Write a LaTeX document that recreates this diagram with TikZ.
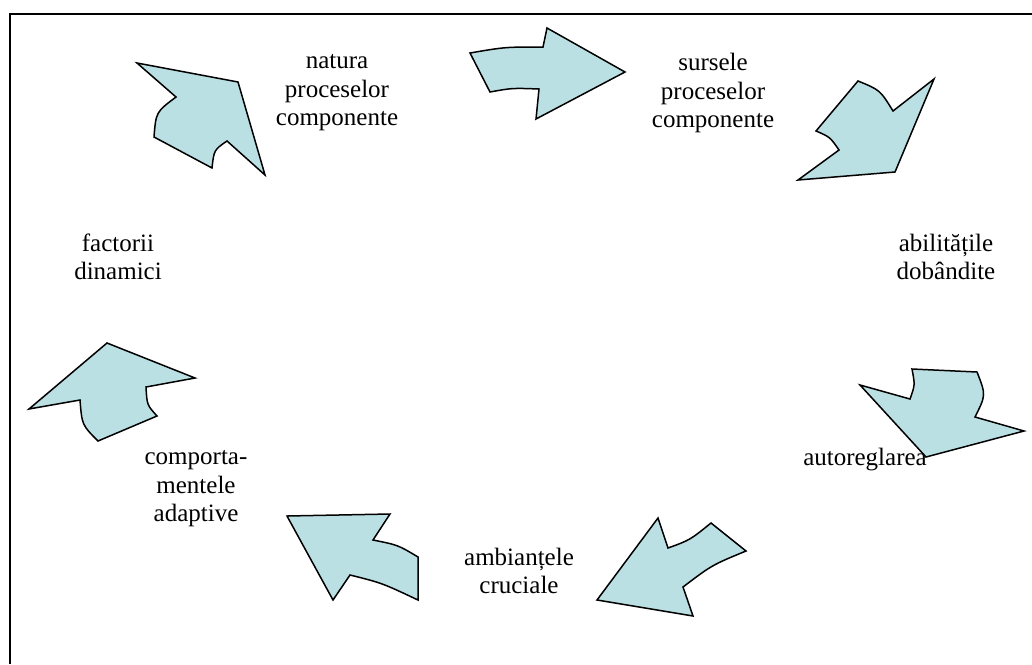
\documentclass[tikz,border=0pt]{standalone}
\usepackage{fontspec}
\setmainfont{Liberation Serif}
\definecolor{arrowfill}{RGB}{187,224,228}
\tikzset{
  bigarrow/.style={fill=arrowfill, draw=black, line width=1.5pt, line join=miter},
  label/.style={align=center, inner sep=0pt, font=\fontsize{25}{28.5}\selectfont},
  frame/.style={draw=black, line width=2.2pt}
}
\begin{document}
\begin{tikzpicture}[x=1pt,y=-1pt]
\useasboundingbox (0,0) rectangle (1032,664);
% outer frame (top and left edges)
\draw[frame] (10,664) -- (10,14) -- (1032,14);

% curved block arrows going round the cycle
\draw[bigarrow] (137,63) -- (238,82) -- (265,175) -- (227,141)
  .. controls (214,150) .. (212,168) -- (154,137)
  .. controls (156,112) .. (176,97) -- cycle;
\draw[bigarrow] (470,53) .. controls (505,47) .. (543,47) -- (547,28) -- (625,72)
  -- (536,119) -- (539,89) .. controls (512,88) .. (490,92) -- cycle;
\draw[bigarrow] (858,81) .. controls (880,90) .. (893,111) -- (934,79) -- (895,172)
  -- (798,180) -- (839,150) .. controls (830,137) .. (816,131) -- cycle;
\draw[bigarrow] (912,369) -- (977,372) .. controls (986,395) .. (975,417) -- (1024,431)
  -- (926,457) -- (860,385) -- (910,399) .. controls (915,385) .. (912,369) -- cycle;
\draw[bigarrow] (658,518) -- (668,548) .. controls (690,540) .. (711,523) -- (746,551)
  .. controls (712,565) .. (683,587) -- (693,616) -- (597,600) -- cycle;
\draw[bigarrow] (287,516) -- (390,514) -- (373,540) .. controls (398,545) .. (418,557)
  -- (418,600) .. controls (382,583) .. (350,575) -- (333,600) -- cycle;
\draw[bigarrow] (107,343) -- (195,378) -- (146,387) .. controls (147,405) .. (157,416)
  -- (98,441) .. controls (82,425) .. (80,400) -- (29,409) -- cycle;

% stage labels
\node[label] (natura) at (337,93) {natura\\proceselor\\componente};
\node[label] (surse) at (713,93) {sursele\\proceselor\\componente};
\node[label] (abil) at (946,257) {abilitățile\\dobândite};
\node[label] (autoreg) at (865,460) {autoreglarea};
\node[label] (ambiante) at (519,571) {ambianțele\\cruciale};
\node[label] (comport) at (196,489) {comporta-\\mentele\\adaptive};
\node[label] (factori) at (118,257) {factorii\\dinamici};
\end{tikzpicture}
\end{document}
